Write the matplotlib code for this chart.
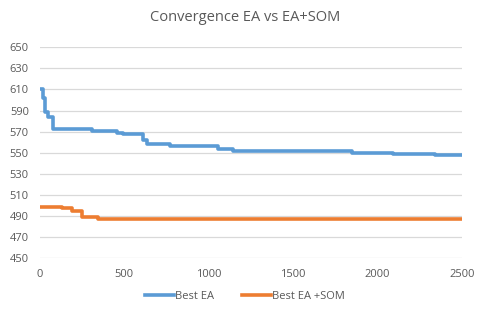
import matplotlib.pyplot as plt

# step change points (iteration, best fitness)
ea_iter = [0, 16, 30, 49, 75, 306, 454, 493, 608, 632, 770, 1055, 1143, 1848, 2040, 2091, 2340, 2500]
ea_best = [610, 602, 589, 584, 572, 571, 569, 568, 562, 558, 556, 553, 552, 550, 549.5, 549, 548, 548]

som_iter = [0, 128, 187, 247, 346, 2500]
som_best = [498, 497, 495, 489, 487, 487]

y_ticks = [450, 470, 490, 510, 530, 550, 570, 590, 610, 630, 650]
x_ticks = [0, 500, 1000, 1500, 2000, 2500]

plt.rcParams['font.family'] = ['Open Sans', 'DejaVu Sans']
txt = '#595959'

fig = plt.figure(figsize=(4.9, 3.24), dpi=100)
ax = fig.add_axes([0.0816, 0.2037, 0.8612, 0.6503])

ax.plot(ea_iter, ea_best, drawstyle='steps-post', color='#5B9BD5', lw=2.6, label='Best EA')
ax.plot(som_iter, som_best, drawstyle='steps-post', color='#ED7D31', lw=2.6, label='Best EA +SOM')

ax.set_xlim(0, 2500)
ax.set_ylim(450, 650)
ax.set_yticks(y_ticks)
ax.set_xticks(x_ticks)
ax.grid(axis='y', color='#D9D9D9', lw=0.9)
ax.set_axisbelow(True)
for s in ax.spines.values():
    s.set_visible(False)
ax.tick_params(length=0, labelsize=8, colors=txt, pad=8)

fig.text(0.5, 0.945, 'Convergence EA vs EA+SOM', ha='center', va='center', fontsize=10.5, color=txt)
fig.legend(loc='center', bbox_to_anchor=(0.5, 0.085), ncol=2, frameon=False,
           fontsize=8, labelcolor=txt, handlelength=2.6, handletextpad=0.1, columnspacing=2.5)

fig.savefig('out.png', dpi=100)
